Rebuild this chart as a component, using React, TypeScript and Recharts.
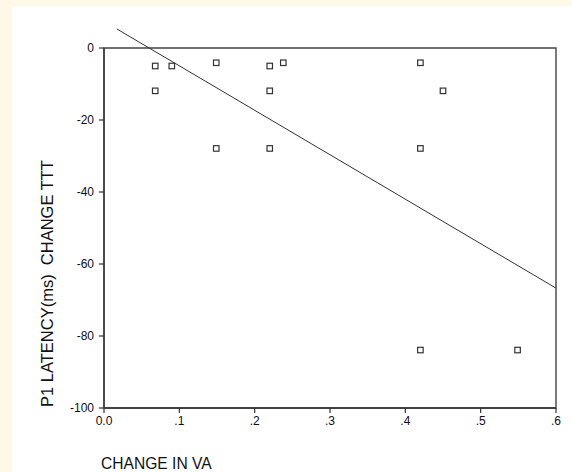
import React from "react";
import {
  ScatterChart,
  Scatter,
  XAxis,
  YAxis,
  ReferenceLine,
  ReferenceArea,
} from "recharts";

const vaChange = [0.068, 0.09, 0.149, 0.22, 0.238, 0.068, 0.22, 0.149, 0.22, 0.42, 0.45, 0.42, 0.42, 0.549];
const p1Change = [-5, -5, -4.1, -5, -4.1, -11.9, -11.9, -27.9, -27.9, -4.1, -11.9, -27.9, -83.9, -83.9];

const fitX = [0.017, 0.6];
const fitY = [5.3, -66.7];

const xTicks = [0, 0.1, 0.2, 0.3, 0.4, 0.5, 0.6];
const yTicks = [0, -20, -40, -60, -80, -100];

const points = vaChange.map((x, i) => ({ x, y: p1Change[i] }));
const fitSegment = fitX.map((x, i) => ({ x, y: fitY[i] }));

const fmtX = (v: number) => (v === 0 ? "0.0" : v.toFixed(1).replace(/^0/, ""));

const Square = (props: any) => {
  const { cx, cy } = props;
  if (cx == null || cy == null) return null;
  return (
    <rect x={cx - 2.75} y={cy - 2.75} width={5.5} height={5.5} fill="#ffffff" stroke="#333" strokeWidth={1.2} />
  );
};

const XTitle = (props: any) => {
  const vb = props.viewBox || { x: 0, y: 0 };
  return (
    <text x={vb.x - 3} y={vb.y + 61} fontFamily="'Liberation Sans', Arial, sans-serif" fontSize={15.6} fill="#111">
      CHANGE IN VA
    </text>
  );
};

const YTitle = (props: any) => {
  const vb = props.viewBox || { x: 0, y: 0, width: 0, height: 0 };
  const x = 53;
  const y = vb.y + vb.height - 1;
  return (
    <text
      x={x}
      y={y}
      transform={`rotate(-90 ${x} ${y})`}
      textAnchor="start"
      fontFamily="'Liberation Sans', Arial, sans-serif"
      fontSize={16.5}
      fill="#111"
      style={{ whiteSpace: "pre" }}
    >
      {"P1 LATENCY(ms)  CHANGE TTT"}
    </text>
  );
};

const tickStyle = { fontFamily: "'Liberation Sans', Arial, sans-serif", fontSize: 12, fill: "#0d0d1a" };

export default function App() {
  return (
    <div style={{ position: "relative", width: 572, height: 472, background: "#fdf9e6", overflow: "hidden" }}>
      <style>{`body{margin:0}`}</style>
      <div style={{ position: "absolute", left: 12, top: 6, width: 560, height: 466, background: "#ffffff" }} />
      <div style={{ position: "absolute", left: 0, top: 0 }}>
        <ScatterChart width={572} height={472} margin={{ top: 48, right: 16, bottom: 0, left: 0 }}>
          <XAxis
            type="number"
            dataKey="x"
            domain={[0, 0.6]}
            ticks={xTicks}
            tickFormatter={fmtX}
            height={64}
            tickSize={5}
            tickMargin={3}
            interval={0}
            tick={tickStyle}
            axisLine={{ stroke: "#333", strokeWidth: 1.3 }}
            tickLine={{ stroke: "#333", strokeWidth: 1.2 }}
            label={<XTitle />}
          />
          <YAxis
            type="number"
            dataKey="y"
            domain={[-100, 0]}
            ticks={yTicks}
            width={104}
            tickSize={5}
            tickMargin={5}
            interval={0}
            tick={tickStyle}
            axisLine={{ stroke: "#333", strokeWidth: 1.3 }}
            tickLine={{ stroke: "#333", strokeWidth: 1.2 }}
            label={<YTitle />}
          />
          <ReferenceArea x1={0} x2={0.6} y1={-100} y2={0} fill="none" stroke="#444" strokeWidth={1.4} ifOverflow="visible" />
          <ReferenceLine segment={fitSegment} stroke="#333" strokeWidth={1} ifOverflow="visible" />
          <Scatter data={points} shape={<Square />} isAnimationActive={false} />
        </ScatterChart>
      </div>
    </div>
  );
}
